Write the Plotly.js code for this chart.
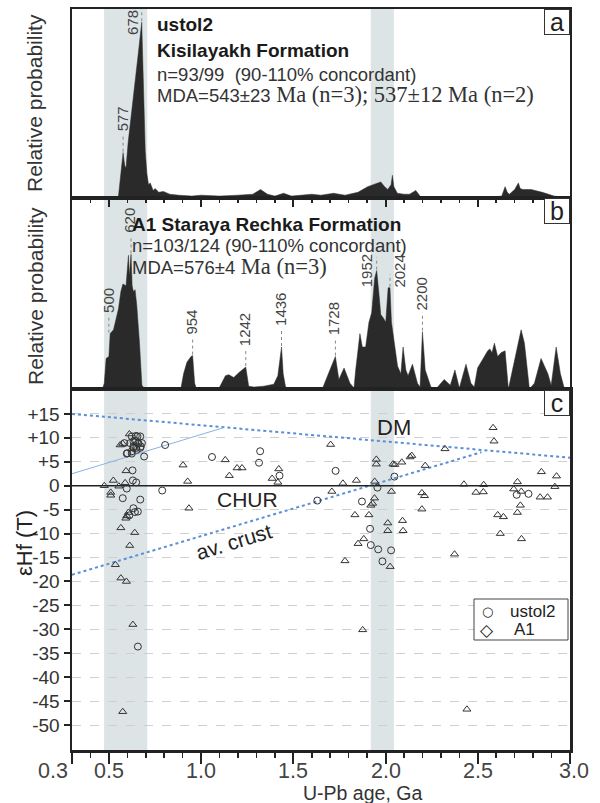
<!DOCTYPE html>
<html><head><meta charset="utf-8">
<script src="https://cdn.plot.ly/plotly-3.0.1.min.js"></script>
<style>html,body{margin:0;padding:0;background:#fff}#chart{width:600px;height:803px}</style>
</head><body><div id="chart"></div>
<script>
// ---------- DATA ----------
// Panel a: ustol2 relative probability (age in Ma)
const ageA = [300,540,552,565,577,586,593,604,624,642,660,678,688,697,706,715,724,740,751,770,795,830,880,950,1000,1100,1200,1280,1322,1360,1400,1447,1490,1550,1600,1650,1718,1780,1850,1903,1940,1974,1995,2012,2030,2037,2045,2064,2100,2130,2164,2191,2250,2400,2550,2630,2648,2660,2671,2700,2720,2730,2744,2789,2850,2914,2960,3000];
const probA = [0,0,0.01,0.15,0.24,0.17,0.16,0.29,0.45,0.61,0.77,0.93,0.52,0.25,0.13,0.07,0.08,0.04,0.05,0.03,0.035,0.02,0.015,0.01,0.015,0.01,0.015,0.02,0.045,0.02,0.01,0.025,0.01,0.015,0.02,0.015,0.025,0.015,0.03,0.06,0.075,0.085,0.06,0.045,0.07,0.12,0.06,0.025,0.02,0.02,0.04,0.005,0.003,0.002,0.003,0.01,0.06,0.03,0.02,0.045,0.08,0.05,0.045,0.045,0.03,0.01,0.003,0];
// Panel b: A1 relative probability (age in Ma)
const ageB = [300,465,475,485,500,507,525,543,552,565,576,593,606,611,620,626,633,642,651,666,679,695,890,905,923,945,954,965,975,1095,1115,1132,1150,1177,1204,1231,1242,1258,1286,1340,1394,1416,1436,1445,1458,1494,1657,1690,1728,1747,1775,1807,1829,1838,1861,1874,1892,1910,1925,1941,1952,1965,1974,1989,2001,2014,2024,2032,2046,2065,2083,2095,2110,2122,2146,2173,2187,2195,2200,2215,2246,2273,2318,2351,2376,2400,2436,2463,2481,2499,2527,2554,2566,2577,2590,2608,2626,2648,2666,2699,2735,2753,2780,2807,2843,2880,2898,2925,2948,2970,3000];
const probB = [0,0,0.03,0.16,0.17,0.29,0.31,0.38,0.42,0.51,0.55,0.54,0.70,0.59,0.705,0.54,0.51,0.52,0.44,0.24,0.02,0,0,0.08,0.14,0.17,0.175,0.03,0,0,0.04,0.07,0.075,0.06,0.085,0.11,0.115,0.015,0.01,0.015,0.025,0.07,0.22,0.08,0.01,0,0,0.08,0.17,0.05,0.11,0.03,0.005,0.10,0.29,0.22,0.22,0.35,0.40,0.58,0.62,0.49,0.39,0.37,0.35,0.53,0.53,0.35,0.24,0.12,0.08,0.22,0.10,0.07,0.13,0.03,0.01,0.19,0.30,0.10,0.01,0,0.05,0.02,0.10,0.005,0.13,0.03,0.01,0.11,0.16,0.20,0.21,0.19,0.24,0.17,0.19,0.20,0,0.14,0.31,0.24,0,0.03,0.16,0.08,0.02,0.22,0.08,0,0];
const peaksA = [577, 678];
const peaksB = [500, 620, 954, 1242, 1436, 1728, 1952, 2024, 2200];

// Panel c: eHf(T) vs U-Pb age (Ga)
const ustolAge = [0.584,0.597,0.624,0.633,0.642,0.655,0.670,0.660,0.673,0.648,0.691,0.624,0.646,0.633,0.615,0.679,0.657,0.633,0.670,0.624,0.600,0.651,0.805,0.628,0.630,0.648,0.597,0.789,0.575,0.670,0.633,0.657,0.641,0.611,0.657,1.059,1.320,1.314,1.425,1.729,1.630,1.872,1.916,1.920,1.960,2.030,1.983,1.956,2.048,2.711,2.775];
const ustolEHf = [8.9,6.7,6.7,7.9,9.4,10.3,10.3,8.9,8.2,7.9,6.1,10.3,10.4,9.3,8.9,8.9,8.8,8.2,7.9,7.2,6.8,7.5,8.5,3.2,1.1,0.7,-0.6,-1.0,-2.6,-2.9,-4.7,-5.4,-5.5,-6.2,-33.6,6.0,7.2,4.8,2.1,3.1,-3.1,-3.3,-9.0,-12.4,-13.3,-13.5,-15.8,-0.4,1.9,-1.9,-1.7];
const a1Age = [0.475,0.510,0.524,0.554,0.565,0.561,0.588,0.593,0.597,0.611,0.613,0.640,0.535,0.565,0.595,0.575,0.606,0.592,0.630,0.575,0.510,0.902,0.927,0.934,1.131,1.153,1.195,1.222,1.421,1.385,1.416,1.702,1.709,1.769,1.842,1.834,1.910,1.882,1.851,1.780,1.950,1.950,1.941,1.940,1.930,1.920,2.012,2.012,2.032,2.025,2.040,2.050,2.088,2.133,2.142,2.092,2.095,2.215,2.197,2.211,2.197,2.322,2.374,2.425,2.490,2.532,2.530,2.583,2.588,2.608,2.639,2.622,2.715,2.695,2.736,2.731,2.715,2.737,2.845,2.838,2.878,2.927,2.918,1.876,2.441];
const a1EHf = [0,-2.0,1.1,-0.1,-8.8,8.5,0.6,3.1,-6.3,10.8,-12.5,-9.8,-16.5,-19.3,-20.0,8.8,-5.6,-6.8,-29.0,-47.2,-1.4,4.3,0.9,-4.7,5.4,2.1,3.7,3.7,3.5,1.5,0.7,8.6,-1.2,0.5,1.1,-6.1,-6.1,-11.1,-12.1,-15.7,5.5,4.5,0.9,-2.6,-3.7,-4.1,-7.8,-9.4,-1.2,-16.9,4.5,4.4,4.9,6.0,6.3,-7.3,-9.4,4.2,-1.5,-2.1,-4.9,7.7,-14.3,0.3,-1.4,0.2,-1.3,12.1,9.3,-6.1,-6.5,-10.0,0.8,-0.7,-1.2,-4.1,-5.6,-11.1,2.9,-2.4,-2.4,2.0,-0.2,-30.1,-46.7];

// Reference lines (Ga, eHf)
const dmAge = [0.3, 3.0],   dmEHf = [15, 5.85];
const crustAge = [0.3, 2.52], crustEHf = [-18.6, 7.0];
const evoAge = [0.3, 1.12], evoEHf = [2.5, 12.1];
const churAge = [0.3, 3.0], churEHf = [0, 0];
// Highlighted age windows (Ga)
const bandStart = [0.474, 1.92];
const bandEnd   = [0.708, 2.045];

const xTickVals = [0.3, 0.5, 1.0, 1.5, 2.0, 2.5, 3.0];
const xTickText = ['0.3', '0.5', '1.0', '1.5', '2.0', '2.5', '3.0'];
const yTickVals = [15,10,5,0,-5,-10,-15,-20,-25,-30,-35,-40,-45,-50];
const yTickText = ['+15','+10','+5','0','-5','-10','-15','-20','-25','-30','-35','-40','-45','-50'];
const legendNames = ['ustol2', 'A1'];
const legendSymbols = ['\u25cb', '\u25c7'];

// ---------- LAYOUT HELPERS ----------
const FONT = 'Liberation Sans, Arial, sans-serif';
const SERIF = "Liberation Serif, Times New Roman, serif";
const PT = 9, PB = 750, PL = 72, PR = 570;
const Py = p => (PB - p) / (PB - PT);
const Px = p => (p - PL) / (PR - PL);
const toGa = a => a.map(v => v / 1000);
function peakH(ages, vals, a) {
  let best = 0;
  ages.forEach((x, i) => { if (Math.abs(x - a) <= 10 && vals[i] > best) best = vals[i]; });
  return best;
}
const labelStyle = { // per-label placement tweaks
  678: {dx: -9, beside: true, dy: 0.0},
  1952: {dx: -10, beside: true, dy: 0.0},
  2024: {dx: 10, beside: true, dy: 0.09}
};

const traces = [];
traces.push({x: toGa(ageA), y: probA, xaxis: 'x', yaxis: 'y', mode: 'lines', fill: 'tozeroy',
  line: {color: '#2a2a2a', width: 0.5}, fillcolor: '#2a2a2a', hoverinfo: 'skip'});
traces.push({x: toGa(ageB), y: probB, xaxis: 'x2', yaxis: 'y2', mode: 'lines', fill: 'tozeroy',
  line: {color: '#2a2a2a', width: 0.5}, fillcolor: '#2a2a2a', hoverinfo: 'skip'});
traces.push({x: dmAge, y: dmEHf, xaxis: 'x3', yaxis: 'y3', mode: 'lines',
  line: {color: '#5a8fd8', width: 2, dash: 'dot'}, hoverinfo: 'skip'});
traces.push({x: crustAge, y: crustEHf, xaxis: 'x3', yaxis: 'y3', mode: 'lines',
  line: {color: '#5a8fd8', width: 2, dash: 'dot'}, hoverinfo: 'skip'});
traces.push({x: evoAge, y: evoEHf, xaxis: 'x3', yaxis: 'y3', mode: 'lines',
  line: {color: '#8ab0e4', width: 1}, hoverinfo: 'skip'});
traces.push({x: churAge, y: churEHf, xaxis: 'x3', yaxis: 'y3', mode: 'lines',
  line: {color: '#222', width: 1.5}, hoverinfo: 'skip'});
traces.push({x: ustolAge, y: ustolEHf, xaxis: 'x3', yaxis: 'y3', mode: 'markers', name: 'ustol2',
  marker: {symbol: 'circle-open', size: 7, color: '#333', line: {width: 1}}});
traces.push({x: a1Age, y: a1EHf, xaxis: 'x3', yaxis: 'y3', mode: 'markers', name: 'A1',
  marker: {symbol: 'triangle-up-open', size: 7, color: '#333', line: {width: 1}}});

const shapes = [];
bandStart.forEach((s, i) => shapes.push({type: 'rect', xref: 'x', yref: 'paper', x0: s, x1: bandEnd[i], y0: 0, y1: 1,
  fillcolor: '#dde4e5', line: {width: 0}, layer: 'below'}));

const annotations = [];
function addPeakLabels(peaks, ages, vals, xr, yr) {
  peaks.forEach(p => {
    const h = peakH(ages, vals, p);
    const st = labelStyle[p];
    if (st && st.beside) {
      shapes.push({type: 'line', xref: xr, yref: yr, x0: p/1000, x1: p/1000, y0: h + 0.005, y1: h + 0.07,
        line: {color: '#888', width: 1, dash: 'dot'}});
      annotations.push({xref: xr, yref: yr, x: p/1000, y: h + st.dy, text: String(p), showarrow: false,
        textangle: -90, xanchor: 'center', yanchor: 'middle', xshift: st.dx,
        font: {family: FONT, size: 15, color: '#444'}});
    } else {
      shapes.push({type: 'line', xref: xr, yref: yr, x0: p/1000, x1: p/1000, y0: h + 0.005, y1: h + 0.1,
        line: {color: '#888', width: 1, dash: 'dot'}});
      annotations.push({xref: xr, yref: yr, x: p/1000, y: h + 0.1, text: String(p), showarrow: false,
        textangle: -90, xanchor: 'center', yanchor: 'bottom', xshift: -1,
        font: {family: FONT, size: 15, color: '#444'}});
    }
  });
}
addPeakLabels(peaksA, ageA, probA, 'x', 'y');
addPeakLabels(peaksB, ageB, probB, 'x2', 'y2');

function txt(text, xpx, ypx, size, opts) {
  annotations.push(Object.assign({xref: 'paper', yref: 'paper', x: Px(xpx), y: Py(ypx), text: text,
    showarrow: false, xanchor: 'left', yanchor: 'middle', borderpad: 0,
    font: {family: FONT, size: size, color: '#1a1a1a'}}, opts || {}));
}
const serifSpan = s => '<span style="font-family:' + SERIF + ';font-size:22.5px">' + s + '</span>';
// Panel a text
txt('<b>ustol2</b>', 156, 25, 19);
txt('<b>Kisilayakh Formation</b>', 156, 51, 19);
txt('n=93/99\u00a0\u00a0(90-110% concordant)', 156, 75, 18.5, {font: {family: FONT, size: 18.5, color: '#333'}});
txt('MDA=543±23' + serifSpan(' Ma (n=3); 537±12 Ma (n=2)'), 156, 95, 18.5, {font: {family: FONT, size: 18.5, color: '#333'}});
// Panel b text
txt('<b>A1 Staraya Rechka Formation</b>', 131, 225, 19);
txt('n=103/124 (90-110% concordant)', 131, 245, 18.5, {font: {family: FONT, size: 18.5, color: '#333'}});
txt('MDA=576±4' + serifSpan(' Ma (n=3)'), 131, 267, 18.5, {font: {family: FONT, size: 18.5, color: '#333'}});

// Axis titles
txt('Relative probability', 35, 103, 21, {textangle: -90, xanchor: 'center', font: {family: FONT, size: 21, color: '#333'}});
txt('Relative probability', 35, 296, 21, {textangle: -90, xanchor: 'center', font: {family: FONT, size: 21, color: '#333'}});
txt('\u03b5Hf (T)', 25, 543, 22, {textangle: -90, xanchor: 'center', font: {family: FONT, size: 22, color: '#222'}});
txt('U-Pb age, Ga', 362, 793, 19.5, {xanchor: 'center', font: {family: FONT, size: 19.5, color: '#333'}});
// x tick labels (drawn from the tick arrays, placed to match the reference)
xTickVals.forEach((v, i) => {
  annotations.push({xref: 'x3', yref: 'paper', x: v, y: Py(771), text: xTickText[i], showarrow: false,
    xanchor: i === 0 ? 'right' : 'center', xshift: i === 0 ? -3 : (i === xTickVals.length - 1 ? 4 : 0),
    yanchor: 'middle', borderpad: 0, font: {family: FONT, size: 21.5, color: '#444'}});
});

// Panel c labels
annotations.push({xref: 'x3', yref: 'y3', x: 2.045, y: 12.1, text: 'DM', showarrow: false,
  font: {family: FONT, size: 22, color: '#222'}});
annotations.push({xref: 'x3', yref: 'y3', x: 1.25, y: -2.9, text: 'CHUR', showarrow: false,
  font: {family: FONT, size: 21, color: '#222'}});
annotations.push({xref: 'x3', yref: 'y3', x: 1.18, y: -11.7, text: 'av. crust', showarrow: false, textangle: -17,
  font: {family: FONT, size: 21, color: '#222'}});

// Custom legend box (matching reference: circle / diamond symbols)
shapes.push({type: 'rect', xref: 'paper', yref: 'paper', x0: Px(474), x1: Px(568), y0: Py(640), y1: Py(599),
  fillcolor: '#fff', line: {color: '#444', width: 1}, layer: 'above'});
legendNames.forEach((n, i) => {
  const yy = 611 + i * 18.5;
  const sz = i === 0 ? 13 : 17;
  txt(legendSymbols[i], 487, yy, sz, {xanchor: 'center', font: {family: 'DejaVu Sans, sans-serif', size: sz, color: '#222'}});
  txt(n, i === 0 ? 509 : 513, yy, 17, {font: {family: FONT, size: 17, color: '#222'}});
});

// Panel letters
[['a', 9], ['b', 198], ['c', 390]].forEach(([l, top]) => {
  annotations.push({xref: 'paper', yref: 'paper', x: 1, y: Py(top), xanchor: 'right', yanchor: 'top',
    text: l, showarrow: false, width: 24, height: 24, borderpad: 0, bordercolor: '#333', borderwidth: 1,
    bgcolor: '#fff', font: {family: FONT, size: 25, color: '#222'}, valign: 'middle'});
});

const frame = {showline: true, mirror: true, linecolor: '#222', linewidth: 2, showgrid: false, zeroline: false, fixedrange: true};
const layout = {
  width: 600, height: 803,
  margin: {l: PL, r: 600 - PR, t: PT, b: 803 - PB},
  paper_bgcolor: '#fff', plot_bgcolor: 'rgba(0,0,0,0)',
  showlegend: false,
  xaxis: Object.assign({}, frame, {domain: [0, 1], range: [0.3, 3.0], anchor: 'y', ticks: '', showticklabels: false}),
  yaxis: Object.assign({}, frame, {domain: [Py(198), 1], range: [0, 1], ticks: '', showticklabels: false}),
  xaxis2: Object.assign({}, frame, {domain: [0, 1], range: [0.3, 3.0], anchor: 'y2', side: 'top',
    ticks: 'inside', tickmode: 'array', tickvals: [0.5, 1.0, 1.5, 2.0, 2.5], ticklen: 9, tickwidth: 2, tickcolor: '#222',
    showticklabels: false,
    minor: {ticks: 'inside', tickmode: 'linear', tick0: 0.3, dtick: 0.1, ticklen: 5, tickwidth: 1.5, tickcolor: '#222', showgrid: false}}),
  yaxis2: Object.assign({}, frame, {domain: [Py(389), Py(198)], range: [0, 1], ticks: '', showticklabels: false}),
  xaxis3: Object.assign({}, frame, {domain: [0, 1], range: [0.3, 3.0], anchor: 'y3', linewidth: 2.5,
    ticks: 'outside', tickmode: 'array', tickvals: xTickVals, ticklen: 11, tickwidth: 2, tickcolor: '#222',
    showticklabels: false,
    minor: {ticks: 'outside', tickmode: 'linear', tick0: 0.3, dtick: 0.1, ticklen: 5, tickwidth: 1.5, tickcolor: '#222', showgrid: false}}),
  yaxis3: Object.assign({}, frame, {domain: [0, Py(389)], range: [-55.2, 20.2], linewidth: 2.5,
    ticks: 'outside', tickmode: 'array', tickvals: yTickVals, ticktext: yTickText, ticklen: 6, tickwidth: 2, tickcolor: '#222',
    tickfont: {family: FONT, size: 19, color: '#333'},
    showgrid: true, gridcolor: '#cfcfcf', gridwidth: 1, griddash: 'dash'}),
  shapes: shapes,
  annotations: annotations
};
Plotly.newPlot('chart', traces, layout, {displayModeBar: false, staticPlot: true});
</script>
</body></html>
